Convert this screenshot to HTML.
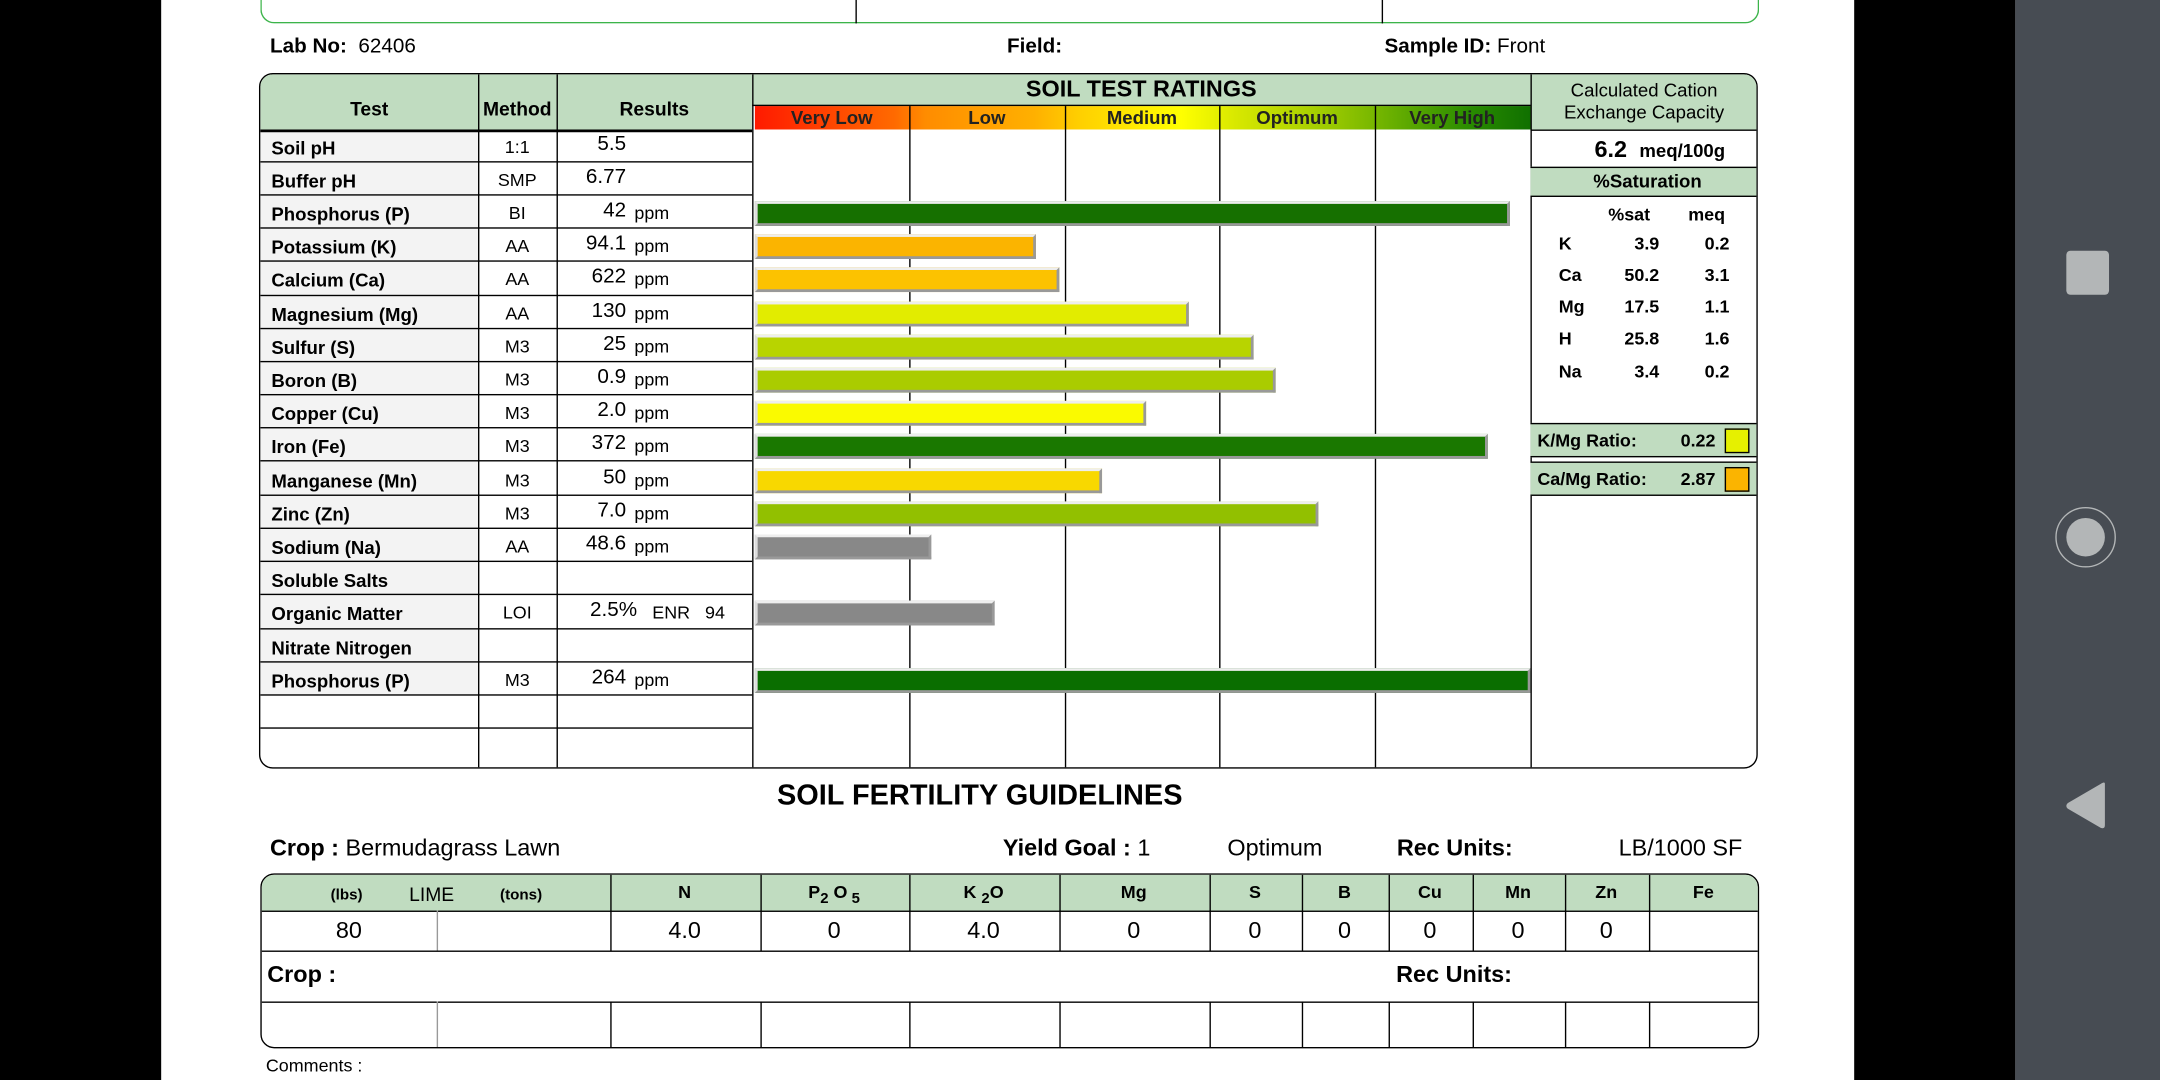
<!DOCTYPE html>
<html><head><meta charset="utf-8">
<style>
html,body{margin:0;padding:0;width:2160px;height:1080px;overflow:hidden;background:#fff}
#s{position:absolute;left:0;top:0;width:1568px;height:784px;transform:scale(1.37755);transform-origin:0 0;font-family:"Liberation Sans",Arial,sans-serif;color:#000}
.a{position:absolute}
.b{font-weight:bold}
.vl{position:absolute;width:1px;background:#000}
</style></head><body>
<div id="s">
<div class="a" style="left:0;top:0;width:117px;height:784px;background:#000"></div>
<div class="a" style="left:1346px;top:0;width:117px;height:784px;background:#000"></div>
<div class="a" style="left:1463px;top:0;width:105px;height:784px;background:#474c53">
  <div class="a" style="left:37px;top:182px;width:31px;height:32px;background:#b3b6b7;border-radius:3px"></div>
  <div class="a" style="left:29px;top:368px;width:44px;height:44px;border:1.5px solid #b3b6b7;border-radius:50%;box-sizing:border-box"><div class="a" style="left:6.5px;top:6.5px;width:28px;height:28px;background:#b3b6b7;border-radius:50%"></div></div>
  <svg class="a" style="left:35px;top:565px" width="34" height="40"><path d="M30 4 L30 34 Q30 37 27 36 L3 22 Q1 20 3 18 L27 4 Q30 2 30 4Z" fill="#b3b6b7"/></svg>
</div>

<div class="a" style="left:189px;top:-20px;width:1086px;height:36px;border:1.5px solid #3cb44a;border-top:none;border-radius:0 0 10px 10px"></div>
<div class="vl" style="left:621px;top:0;height:17px"></div>
<div class="vl" style="left:1003px;top:0;height:17px"></div>

<div class="a" style="left:196px;top:25px;font-size:15px"><b>Lab No:</b>&nbsp; 62406</div>
<div class="a b" style="left:731px;top:25px;font-size:15px">Field:</div>
<div class="a" style="left:1005px;top:25px;font-size:15px"><b>Sample ID:</b> Front</div>

<div id="mt" class="a" style="left:188px;top:53px;width:1088px;height:505px;border:1.5px solid #000;border-radius:10px;box-sizing:border-box;overflow:hidden"></div>

<div class="a b" style="left:564px;top:566px;font-size:21px">SOIL FERTILITY GUIDELINES</div>
<div class="a" style="left:196px;top:606px;font-size:17px"><b>Crop :</b> Bermudagrass Lawn</div>
<div class="a" style="left:728px;top:606px;font-size:17px"><b>Yield Goal :</b> 1</div>
<div class="a" style="left:891px;top:606px;font-size:17px">Optimum</div>
<div class="a b" style="left:1014px;top:606px;font-size:17px">Rec Units:</div>
<div class="a" style="left:1175px;top:606px;font-size:17px">LB/1000 SF</div>

<div id="ft" class="a" style="left:189px;top:634px;width:1088px;height:127px;border:1.5px solid #000;border-radius:10px;box-sizing:border-box;overflow:hidden"></div>
<div class="a" style="left:193px;top:766px;font-size:13px">Comments :</div>
</div>

<script>
const tests=["Soil pH","Buffer pH","Phosphorus (P)","Potassium (K)","Calcium (Ca)","Magnesium (Mg)","Sulfur (S)","Boron (B)","Copper (Cu)","Iron (Fe)","Manganese (Mn)","Zinc (Zn)","Sodium (Na)","Soluble Salts","Organic Matter","Nitrate Nitrogen","Phosphorus (P)","",""];
const methods=["1:1","SMP","BI","AA","AA","AA","M3","M3","M3","M3","M3","M3","AA","","LOI","","M3","",""];
const results=["5.5","6.77","42","94.1","622","130","25","0.9","2.0","372","50","7.0","48.6","","2.5%","","264","",""];
const units=["","","ppm","ppm","ppm","ppm","ppm","ppm","ppm","ppm","ppm","ppm","ppm","","ENR","","ppm","",""];
const ratings=[null,null,4.87,1.82,1.97,2.80,3.22,3.36,2.53,4.73,2.24,3.64,1.14,null,1.55,null,5.0,null,null];
const barColors=["","","#167000","#fbb400","#fcc200","#e2ec00","#b8d400","#aacc00","#fafa00","#1a7800","#f8d800","#92c000","#888888","","#888888","","#0a6e00","",""];
const ratingLabels=["Very Low","Low","Medium","Optimum","Very High"];
const satIons=["K","Ca","Mg","H","Na"];
const satPct=["3.9","50.2","17.5","25.8","3.4"];
const satMeq=["0.2","3.1","1.1","1.6","0.2"];
const fertCols=["N","P<sub>2</sub> O<sub> 5</sub>","K <sub>2</sub>O","Mg","S","B","Cu","Mn","Zn","Fe"];
const fertVals=["4.0","0","4.0","0","0","0","0","0","0",""];

const mt=document.getElementById('mt');
function add(par,html,style,name,inter){const d=document.createElement('div');d.className='a';d.style.cssText=style;d.innerHTML=html;


par.appendChild(d);return d;}
const OX=189.5,OY=54.5;
const R=v=>Math.round(v);
const colX=[188,347,404,546,1111,1276].map(v=>R(v-OX));
const rowTop=94,rowH=24.2;
const rx0=548,rx1=1111;
function xScale(v){return rx0+v*(rx1-rx0)/5-OX;}
function rowY(i){return rowTop+i*rowH-OY;}
add(mt,'','left:0;top:0;width:'+(colX[3])+'px;height:'+(94-OY)+'px;background:#c0dcc0','header-bg-left',false);
add(mt,'','left:'+colX[3]+'px;top:0;width:'+(colX[4]-colX[3])+'px;height:'+(77-OY)+'px;background:#c0dcc0','ratings-header-bg',false);
add(mt,'','left:'+colX[4]+'px;top:0;width:200px;height:'+(94-OY)+'px;background:#c0dcc0','cec-header-bg',false);
add(mt,'','left:0;top:'+(94-OY)+'px;width:'+colX[1]+'px;height:'+R(17*rowH)+'px;background:#f3f3f3','test-col-bg',false);
add(mt,'Test','left:0;top:'+(71-OY)+'px;width:'+colX[1]+'px;text-align:center;font-size:14px;font-weight:bold','col-test',false);
add(mt,'Method','left:'+colX[1]+'px;top:'+(71-OY)+'px;width:57px;text-align:center;font-size:14px;font-weight:bold','col-method',false);
add(mt,'Results','left:'+colX[2]+'px;top:'+(71-OY)+'px;width:142px;text-align:center;font-size:14px;font-weight:bold','col-results',false);
add(mt,'SOIL TEST RATINGS','left:'+colX[3]+'px;top:'+(55-OY)+'px;width:'+(colX[4]-colX[3])+'px;text-align:center;font-size:17px;font-weight:bold','ratings-title',false);
add(mt,'','left:'+(548-OX)+'px;top:'+(77-OY)+'px;width:'+(rx1-rx0)+'px;height:17px;background:linear-gradient(90deg,#ff1a00 0%,#ff6a00 18%,#ff8c00 22%,#ffb000 36%,#ffd000 42%,#ffff00 55%,#d8e800 62%,#a8d000 72%,#6ab000 82%,#2a8c00 92%,#107000 100%)','rating-scale-bar',false);
ratingLabels.forEach((l,i)=>{add(mt,l,'left:'+xScale(i)+'px;top:'+(78-OY)+'px;width:'+((rx1-rx0)/5)+'px;text-align:center;font-size:13.5px;font-weight:bold;color:#222','rating-label-'+l.toLowerCase().replace(' ','-'),false);});
add(mt,'','left:'+(546-OX)+'px;top:'+(76-OY)+'px;width:'+(rx1-546)+'px;height:1.5px;background:#000','rating-top-line',false);
for(let i=1;i<5;i++){add(mt,'','left:'+R(xScale(i))+'px;top:'+(77-OY)+'px;width:1.2px;height:500px;background:#000','rating-divider-'+i,false);}
[1,2,3,4].forEach(i=>add(mt,'','left:'+colX[i]+'px;top:0;width:1.2px;height:510px;background:#000','col-divider-'+i,false));
add(mt,'','left:0;top:'+R(94-OY)+'px;width:'+colX[3]+'px;height:1.5px;background:#000','header-line',false);
tests.forEach((t,i)=>{
 const y=rowY(i);
 if(i<tests.length-1) add(mt,'','left:0;top:'+R(y+rowH-1)+'px;width:'+colX[3]+'px;height:1.2px;background:#000','row-line-'+i,false);
 add(mt,t,'left:8px;top:'+(y+6)+'px;font-size:13.5px;font-weight:bold','test-name-'+i,false);
 add(mt,methods[i],'left:'+colX[1]+'px;top:'+(y+5)+'px;width:57px;text-align:center;font-size:13px','method-'+i,false);
 if(results[i]){
  add(mt,results[i],'left:'+(395-OX)+'px;top:'+(y+2)+'px;width:'+(units[i]=='ENR'?68:60)+'px;text-align:right;font-size:15px','result-'+i,false);
  if(units[i]) add(mt,units[i]=='ENR'?'ENR&nbsp;&nbsp; 94':units[i],'left:'+((units[i]=='ENR'?474:461)-OX)+'px;top:'+(y+5)+'px;font-size:13px','unit-'+i,false);
 }
 if(ratings[i]!=null){
  const w=xScale(ratings[i])-xScale(0);
  add(mt,'','left:'+xScale(0)+'px;top:'+(y+4)+'px;width:'+w+'px;height:18px;background:'+barColors[i]+';border:2px solid;border-color:#eee #999 #999 #ddd;box-sizing:border-box','bar-'+i,false);
 }
});
const cx=colX[4];
add(mt,'Calculated Cation<br>Exchange Capacity','left:'+cx+'px;top:'+(58-OY)+'px;width:165px;text-align:center;font-size:13.5px;line-height:16px','cec-title',false);
add(mt,'','left:'+cx+'px;top:'+(94-OY)+'px;width:170px;height:1.5px;background:#000','cec-line',false);
add(mt,'<b style="font-size:17px">6.2</b>&nbsp; <b style="font-size:13.5px">meq/100g</b>','left:'+(1158-OX)+'px;top:'+(99-OY)+'px','cec-value',false);
add(mt,'%Saturation','left:'+cx+'px;top:'+(121-OY)+'px;width:170px;height:22px;background:#c0dcc0;border-top:1.5px solid #000;border-bottom:1.5px solid #000;box-sizing:border-box;text-align:center;font-size:13.5px;font-weight:bold;line-height:19px','saturation-header',false);
add(mt,'%sat','left:'+(1168-OX)+'px;top:'+(148-OY)+'px;font-size:13px;font-weight:bold','sat-col-pct',false);
add(mt,'meq','left:'+(1226-OX)+'px;top:'+(148-OY)+'px;font-size:13px;font-weight:bold','sat-col-meq',false);
satIons.forEach((ion,i)=>{const y=169+i*23.3-OY;
 add(mt,ion,'left:'+(1132-OX)+'px;top:'+y+'px;font-size:13px;font-weight:bold','sat-ion-'+ion,false);
 add(mt,satPct[i],'left:'+(1160-OX)+'px;top:'+y+'px;width:45px;text-align:right;font-size:13px;font-weight:bold','sat-pct-'+ion,false);
 add(mt,satMeq[i],'left:'+(1220-OX)+'px;top:'+y+'px;width:36px;text-align:right;font-size:13px;font-weight:bold','sat-meq-'+ion,false);
});
[["K/Mg Ratio:","0.22","#e6f000",307],["Ca/Mg Ratio:","2.87","#fbb400",335]].forEach((r,i)=>{
 add(mt,'<span style="position:absolute;left:5px;top:4px">'+r[0]+'</span><span style="position:absolute;left:109px;top:4px">'+r[1]+'</span><span style="position:absolute;left:141px;top:3px;width:16px;height:16px;background:'+r[2]+';border:1.5px solid #000"></span>','left:'+cx+'px;top:'+(r[3]-OY)+'px;width:170px;height:25px;background:#c0dcc0;border-top:1.5px solid #000;border-bottom:1.5px solid #000;box-sizing:border-box;font-size:13px;font-weight:bold',i?'ca-mg-ratio':'k-mg-ratio',false);
});

const ft=document.getElementById('ft');
const FX=190.5,FY=635.5;
const fcol=[443,552,660,769,878,945,1008,1069,1136,1197,1277];
add(ft,'','left:0;top:0;width:1100px;height:'+(661-FY)+'px;background:#c0dcc0','fert-header-bg',false);
add(ft,'<span style="font-size:11px;font-weight:bold;position:absolute;left:50px;top:9px">(lbs)</span><span style="font-size:14px;position:absolute;left:107px;top:6px">LIME</span><span style="font-size:11px;font-weight:bold;position:absolute;left:173px;top:9px">(tons)</span>','left:0;top:0;width:250px;height:25px','lime-header',false);
fertCols.forEach((c,i)=>{add(ft,c,'left:'+(fcol[i]-FX)+'px;top:'+(640-FY)+'px;width:'+(fcol[i+1]-fcol[i])+'px;text-align:center;font-size:13px;font-weight:bold','fert-col-'+i,false);
 add(ft,fertVals[i],'left:'+(fcol[i]-FX)+'px;top:'+(666-FY)+'px;width:'+(fcol[i+1]-fcol[i])+'px;text-align:center;font-size:17px','fert-val-'+i,false);});
add(ft,'80','left:0;top:'+(666-FY)+'px;width:'+(317-FX)+'px;text-align:center;font-size:17px','lime-lbs-val',false);
[661,690,727].forEach((y,i)=>add(ft,'','left:0;top:'+R(y-FY)+'px;width:1100px;height:1.2px;background:#000','fert-row-line-'+i,false));
fcol.slice(0,-1).forEach((x,i)=>{add(ft,'','left:'+R(x-FX)+'px;top:0;width:1.2px;height:'+(690-FY)+'px;background:#000','fert-col-line-'+i,false);
 add(ft,'','left:'+R(x-FX)+'px;top:'+R(727-FY)+'px;width:1.2px;height:40px;background:#000','fert-col-line2-'+i,false);});
add(ft,'','left:'+R(317-FX)+'px;top:'+R(661-FY)+'px;width:1px;height:29px;background:#999','lime-divider',false);
add(ft,'','left:'+R(317-FX)+'px;top:'+R(727-FY)+'px;width:1px;height:40px;background:#999','lime-divider-2',false);
add(ft,'Crop :','left:4px;top:'+(698-FY)+'px;font-size:17px;font-weight:bold','crop2-label',false);
add(ft,'Rec Units:','left:'+(1014-FX)+'px;top:'+(698-FY)+'px;font-size:17px;font-weight:bold','rec-units2-label',false);
</script>
</body></html>
